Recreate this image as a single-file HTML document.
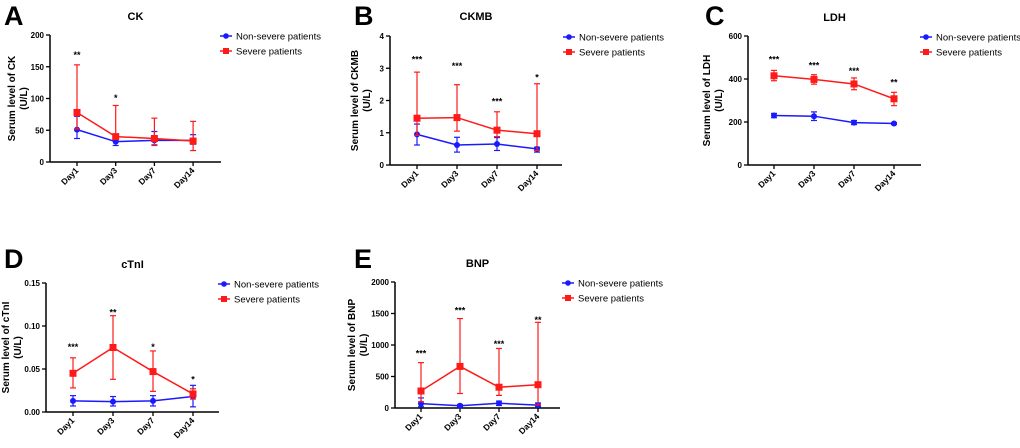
<!DOCTYPE html>
<html><head><meta charset="utf-8"><style>
body{margin:0;background:#fff;}
svg text{font-family:"Liberation Sans",Arial,sans-serif;}
</style></head><body>
<svg id="c" width="1020" height="443" viewBox="0 0 1020 443" xmlns="http://www.w3.org/2000/svg"></svg>
<script>
const days = ["Day1","Day3","Day7","Day14"];
const ckNon = [51,32,34,34], ckNonLo=[37,26,27,28], ckNonHi=[72,34,48,43];
const ckSev = [78,40,37,33], ckSevLo=[52,38,26,18], ckSevHi=[153,89,69,64];
const ckStars = ["**","*","",""], ckStarY=[170,102,0,0];
const ckmbNon=[0.95,0.62,0.65,0.5], ckmbNonLo=[0.62,0.4,0.45,0.4], ckmbNonHi=[1.27,0.86,0.85,0.55];
const ckmbSev=[1.45,1.47,1.08,0.97], ckmbSevLo=[0.92,1.05,0.88,0.45], ckmbSevHi=[2.88,2.49,1.65,2.52];
const ckmbStars=["***","***","***","*"], ckmbStarY=[3.3,3.1,2.0,2.75];
const ldhNon=[230,227,197,193], ldhNonLo=[220,207,188,188], ldhNonHi=[240,247,207,197];
const ldhSev=[415,398,377,308], ldhSevLo=[392,376,350,276], ldhSevHi=[440,420,405,338];
const ldhStars=["***","***","***","**"], ldhStarY=[495,468,442,388];
const ctnNon=[0.013,0.012,0.013,0.018], ctnNonLo=[0.007,0.007,0.007,0.006], ctnNonHi=[0.019,0.018,0.019,0.031];
const ctnSev=[0.045,0.075,0.047,0.021], ctnSevLo=[0.028,0.038,0.024,0.015], ctnSevHi=[0.063,0.112,0.071,0.027];
const ctnStars=["***","**","*","*"], ctnStarY=[0.077,0.117,0.077,0.039];
const bnpNon=[70,35,75,45], bnpNonLo=[20,15,40,20], bnpNonHi=[160,55,110,80];
const bnpSev=[270,660,330,370], bnpSevLo=[100,230,200,50], bnpSevHi=[720,1420,945,1360];
const bnpStars=["***","***","***","**"], bnpStarY=[880,1560,1030,1410];

const NS="http://www.w3.org/2000/svg";
const svg=document.getElementById('c');
function mk(tag,attrs,parent,txt){const e=document.createElementNS(NS,tag);for(const k in attrs)e.setAttribute(k,attrs[k]);if(txt!==undefined)e.textContent=txt;(parent||svg).appendChild(e);return e;}

function panel(p){
  const g=mk('g',{});
  
  
  const y=v=>p.y0-(v/p.max)*(p.y0-p.yTop);
  const x=i=>p.x1+i*p.dx;
  let t=mk('text',{x:p.lx,y:p.ly,'font-size':27,'font-weight':'bold'},g,p.letter);
  
  t=mk('text',{x:(p.ax+p.axEnd)/2,y:p.ty,'font-size':11,'font-weight':'bold','text-anchor':'middle'},g,p.title);
  
  let l=mk('line',{x1:p.ax,x2:p.ax,y1:p.yTop,y2:p.y0,stroke:'#000','stroke-width':1.5},g);
  
  l=mk('line',{x1:p.ax,x2:p.axEnd,y1:p.y0,y2:p.y0,stroke:'#000','stroke-width':1.5},g);
  
  p.ticks.forEach((tv,i)=>{
    mk('line',{x1:p.ax-4,x2:p.ax,y1:y(tv),y2:y(tv),stroke:'#000','stroke-width':1.3},g);
    const tt=mk('text',{x:p.ax-6,y:y(tv)+3,'font-size':8,'font-weight':'bold','text-anchor':'end'},g,p.tickLabels[i]);
    
  });
  days.forEach((d,i)=>{
    mk('line',{x1:x(i),x2:x(i),y1:p.y0,y2:p.y0+4,stroke:'#000','stroke-width':1.3},g);
    const tt=mk('text',{x:x(i)+2,y:p.y0+9,'font-size':8.5,'font-weight':'bold','text-anchor':'end',transform:`rotate(-45 ${x(i)+2} ${p.y0+9})`},g,d);
    
  });
  const yl=mk('text',{transform:`translate(${p.ax-p.yto},${(p.yTop+p.y0)/2}) rotate(-90)`,'font-size':10,'font-weight':'bold','text-anchor':'middle'},g);
  
  mk('tspan',{x:0,dy:-2},yl,'Serum level of '+p.title);
  mk('tspan',{x:0,dy:12},yl,'(U/L)');
  const series=[[p.non,p.nonLo,p.nonHi,'#1a1aff','circle','non-severe'],[p.sev,p.sevLo,p.sevHi,'#ff1a1a','square','severe']];
  series.forEach(([m,lo,hi,col,shape,nm])=>{
    m.forEach((v,i)=>{
      const e=mk('g',{stroke:col,'stroke-width':1.2},g);
      
      mk('line',{x1:x(i),x2:x(i),y1:y(lo[i]),y2:y(hi[i])},e);
      mk('line',{x1:x(i)-3,x2:x(i)+3,y1:y(lo[i]),y2:y(lo[i])},e);
      mk('line',{x1:x(i)-3,x2:x(i)+3,y1:y(hi[i]),y2:y(hi[i])},e);
    });
    const pl=mk('polyline',{points:m.map((v,i)=>x(i)+','+y(v)).join(' '),fill:'none',stroke:col,'stroke-width':1.5},g);
    
    m.forEach((v,i)=>{
      let mkr;
      if(shape==='circle')mkr=mk('circle',{cx:x(i),cy:y(v),r:3,fill:col},g);
      else mkr=mk('rect',{x:x(i)-3.5,y:y(v)-3.5,width:7,height:7,fill:col},g);
      
    });
  });
  p.stars.forEach((s,i)=>{ if(!s)return;
    const st=mk('text',{x:x(i),y:y(p.starY[i])+4,'font-size':9,'font-weight':'bold','text-anchor':'middle'},g,s);
    
  });
  const lg=mk('g',{},g);
  
  const lgy=p.yTop+1;
  mk('line',{x1:p.legX,x2:p.legX+12,y1:lgy,y2:lgy,stroke:'#1a1aff','stroke-width':1.5},lg);
  mk('circle',{cx:p.legX+6,cy:lgy,r:2.8,fill:'#1a1aff'},lg);
  mk('text',{x:p.legX+16,y:lgy+3.5,'font-size':9.5},lg,'Non-severe patients');
  mk('line',{x1:p.legX,x2:p.legX+12,y1:lgy+15,y2:lgy+15,stroke:'#ff1a1a','stroke-width':1.5},lg);
  mk('rect',{x:p.legX+3,y:lgy+12,width:6,height:6,fill:'#ff1a1a'},lg);
  mk('text',{x:p.legX+16,y:lgy+18.5,'font-size':9.5},lg,'Severe patients');
}
panel({key:'ck',letter:'A',title:'CK',lx:4,ly:25,ty:20,ax:50,axEnd:221,yTop:35,y0:162,max:200,x1:77,dx:38.7,yto:33,
  ticks:[0,50,100,150,200],tickLabels:['0','50','100','150','200'],non:ckNon,nonLo:ckNonLo,nonHi:ckNonHi,sev:ckSev,sevLo:ckSevLo,sevHi:ckSevHi,stars:ckStars,starY:ckStarY,legX:220});
panel({key:'ckmb',letter:'B',title:'CKMB',lx:354,ly:25,ty:20,ax:390,axEnd:562,yTop:36,y0:165,max:4,x1:417,dx:40,yto:30,
  ticks:[0,1,2,3,4],tickLabels:['0','1','2','3','4'],non:ckmbNon,nonLo:ckmbNonLo,nonHi:ckmbNonHi,sev:ckmbSev,sevLo:ckmbSevLo,sevHi:ckmbSevHi,stars:ckmbStars,starY:ckmbStarY,legX:563});
panel({key:'ldh',letter:'C',title:'LDH',lx:705,ly:25,ty:21,ax:748,axEnd:921,yTop:36,y0:165,max:600,x1:774,dx:40,yto:36,
  ticks:[0,200,400,600],tickLabels:['0','200','400','600'],non:ldhNon,nonLo:ldhNonLo,nonHi:ldhNonHi,sev:ldhSev,sevLo:ldhSevLo,sevHi:ldhSevHi,stars:ldhStars,starY:ldhStarY,legX:920});
panel({key:'ctni',letter:'D',title:'cTnI',lx:4,ly:268,ty:268,ax:46,axEnd:219,yTop:283,y0:412,max:0.15,x1:73,dx:40,yto:35,
  ticks:[0,0.05,0.1,0.15],tickLabels:['0.00','0.05','0.10','0.15'],non:ctnNon,nonLo:ctnNonLo,nonHi:ctnNonHi,sev:ctnSev,sevLo:ctnSevLo,sevHi:ctnSevHi,stars:ctnStars,starY:ctnStarY,legX:218});
panel({key:'bnp',letter:'E',title:'BNP',lx:354,ly:268,ty:267,ax:395,axEnd:560,yTop:282,y0:408,max:2000,x1:421,dx:39,yto:38,
  ticks:[0,500,1000,1500,2000],tickLabels:['0','500','1000','1500','2000'],non:bnpNon,nonLo:bnpNonLo,nonHi:bnpNonHi,sev:bnpSev,sevLo:bnpSevLo,sevHi:bnpSevHi,stars:bnpStars,starY:bnpStarY,legX:562});
</script>
</body></html>
